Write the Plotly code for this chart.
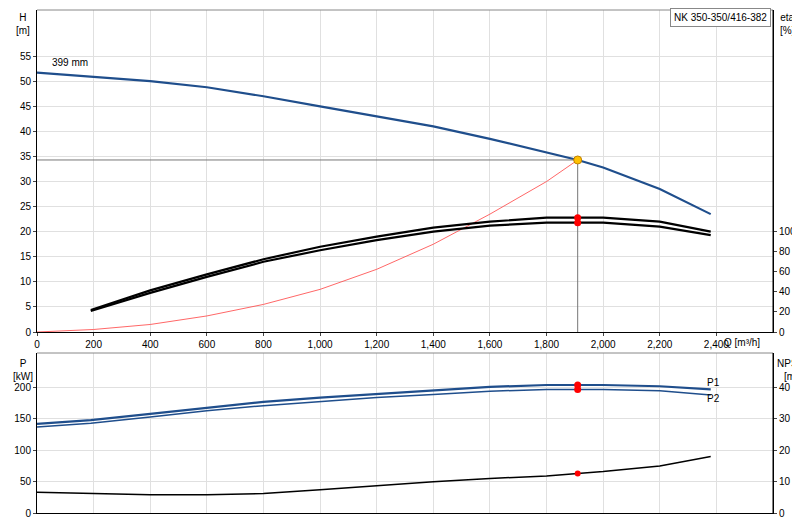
import plotly.graph_objects as go

q_h = [0, 200, 400, 600, 800, 1000, 1200, 1400, 1600, 1800, 1910, 2000, 2200, 2380]
h = [51.7, 50.8, 50.0, 48.8, 47.0, 45.0, 43.0, 41.0, 38.5, 35.7, 34.3, 32.8, 28.5, 23.5]
q_e = [190, 400, 600, 800, 1000, 1200, 1400, 1600, 1800, 2000, 2200, 2380]
eta1 = [22, 41.5, 57.5, 72.5, 85, 95, 104, 110, 114, 114, 110, 100]
eta2 = [21, 39, 55, 70, 81.5, 91.5, 100, 106, 109, 109, 105, 96.5]
q_s = [0, 200, 400, 600, 800, 1000, 1200, 1400, 1600, 1800, 1910]
h_sys = [0, 0.5, 1.5, 3.2, 5.5, 8.5, 12.5, 17.5, 23.5, 30, 34.3]
q_p = [0, 190, 400, 600, 800, 1000, 1200, 1400, 1600, 1800, 2000, 2200, 2380]
p1 = [142, 148, 158, 168, 177, 184, 190, 196, 201, 204, 204, 202, 197]
p2 = [137, 143, 153, 163, 171, 178, 184, 189, 194, 197, 197, 195, 188]
q_n = [0, 190, 400, 600, 800, 1000, 1200, 1400, 1600, 1800, 1910, 2000, 2200, 2380]
npsh = [6.6, 6.2, 5.8, 5.8, 6.2, 7.4, 8.8, 10, 11, 11.8, 12.6, 13.2, 15, 18]
q_op, h_op, eta_op = 1910, 34.3, [114, 109]
p_op = [204, 197]
npsh_op = 12.6
x_ticks = list(range(0, 2401, 200))
x_labels = [f"{v:,}" for v in x_ticks]

W, H = 800, 520
ml, mr, mt, mb = 29, 35, 2, 15
ph = H - mt - mb
def py(y): return (H - mb - y) / ph

blue = "#1f4e8c"
fig = go.Figure()
fig.add_trace(go.Scatter(x=q_h, y=h, mode="lines", line=dict(color=blue, width=2.2), xaxis="x", yaxis="y"))
fig.add_trace(go.Scatter(x=q_s, y=h_sys, mode="lines", line=dict(color="#ff4040", width=0.8), xaxis="x", yaxis="y"))
fig.add_trace(go.Scatter(x=q_e, y=eta1, mode="lines", line=dict(color="black", width=2.2), xaxis="x", yaxis="y2"))
fig.add_trace(go.Scatter(x=q_e, y=eta2, mode="lines", line=dict(color="black", width=2.2), xaxis="x", yaxis="y2"))
fig.add_trace(go.Scatter(x=[q_op, q_op], y=[0, h_op], mode="lines", line=dict(color="#777", width=1), xaxis="x", yaxis="y"))
fig.add_trace(go.Scatter(x=[0, q_op], y=[h_op, h_op], mode="lines", line=dict(color="#777", width=1), xaxis="x", yaxis="y"))
fig.add_trace(go.Scatter(x=[q_op, q_op], y=eta_op, mode="markers", marker=dict(color="red", size=7), xaxis="x", yaxis="y2"))
fig.add_trace(go.Scatter(x=[q_op], y=[h_op], mode="markers", marker=dict(color="#ffc000", size=8, line=dict(color="#c08000", width=1)), xaxis="x", yaxis="y"))
fig.add_trace(go.Scatter(x=q_p, y=p1, mode="lines", line=dict(color=blue, width=2.2), xaxis="x2", yaxis="y3"))
fig.add_trace(go.Scatter(x=q_p, y=p2, mode="lines", line=dict(color=blue, width=1.5), xaxis="x2", yaxis="y3"))
fig.add_trace(go.Scatter(x=q_n, y=npsh, mode="lines", line=dict(color="black", width=1.5), xaxis="x2", yaxis="y4"))
fig.add_trace(go.Scatter(x=[q_op, q_op], y=p_op, mode="markers", marker=dict(color="red", size=7), xaxis="x2", yaxis="y3"))
fig.add_trace(go.Scatter(x=[q_op], y=[npsh_op], mode="markers", marker=dict(color="red", size=6), xaxis="x2", yaxis="y4"))

f = dict(family="Liberation Sans, Arial", size=10, color="black")
grid = "#e0e0e0"
top_d = [py(324), 1]
bot_d = [0, py(345)]
ax = dict(showgrid=True, gridcolor=grid, showline=True, linecolor="black", ticks="outside",
          ticklen=3, tickfont=f, zeroline=False, mirror=False, automargin=False)
fig.update_layout(
    width=W, height=H, margin=dict(l=ml, r=mr, t=mt, b=mb, autoexpand=False), showlegend=False,
    plot_bgcolor="white", paper_bgcolor="white", font=f,
    xaxis=dict(ax, range=[0, 2600], tickvals=x_ticks, ticktext=x_labels, anchor="y", domain=[0, 1]),
    yaxis=dict(ax, range=[0, 64.2], domain=top_d, tickvals=list(range(0, 56, 5)), anchor="x"),
    yaxis2=dict(ax, range=[0, 321], overlaying="y", side="right", showgrid=False, tickvals=list(range(0, 101, 20)), anchor="x"),
    xaxis2=dict(ax, range=[0, 2600], tickvals=x_ticks, showticklabels=False, ticks="", anchor="y3", domain=[0, 1]),
    yaxis3=dict(ax, range=[0, 255], domain=bot_d, tickvals=[0, 50, 100, 150, 200], anchor="x2"),
    yaxis4=dict(ax, range=[0, 51], overlaying="y3", side="right", showgrid=False, tickvals=[0, 10, 20, 30, 40], anchor="x2"),
)
for yy in [1, py(345)]:
    fig.add_shape(type="line", xref="paper", yref="paper", x0=0, x1=1, y0=yy, y1=yy, line=dict(color="#888", width=1))
fig.add_shape(type="line", xref="paper", yref="paper", x0=1, x1=1, y0=top_d[0], y1=1, line=dict(color="black", width=1))
fig.add_shape(type="line", xref="paper", yref="paper", x0=1, x1=1, y0=0, y1=bot_d[1], line=dict(color="black", width=1))
def ann(x, y, t, xa="left", xref="paper", yref="paper", xs=0, ys=0):
    fig.add_annotation(x=x, y=y, text=t, showarrow=False, xref=xref, yref=yref, xanchor=xa, yanchor="middle",
                       font=f, align="center", xshift=xs, yshift=ys)
ann(0, py(16), "H<br>[m]", "center", xs=-14)
ann(1, py(16), "eta<br>[%]", "center", xs=14)
ann(0, py(362), "P<br>[kW]", "center", xs=-14)
ann(1, py(362), "NPSH<br>[m]", "center", xs=18)
ann(2420, 0, "Q [m³/h]", "left", "x", "y", ys=-10)
ann(45, 53.7, "399 mm", "left", "x", "y")
ann(2390, 208, "P1", "center", "x2", "y3")
ann(2390, 183, "P2", "center", "x2", "y3")
fig.add_annotation(x=0.997, y=py(10), xref="paper", yref="paper", text="NK 350-350/416-382", showarrow=False,
                   xanchor="right", yanchor="middle", font=f, bgcolor="white", bordercolor="#888", borderwidth=1, borderpad=3)
fig.write_html("out.html")
